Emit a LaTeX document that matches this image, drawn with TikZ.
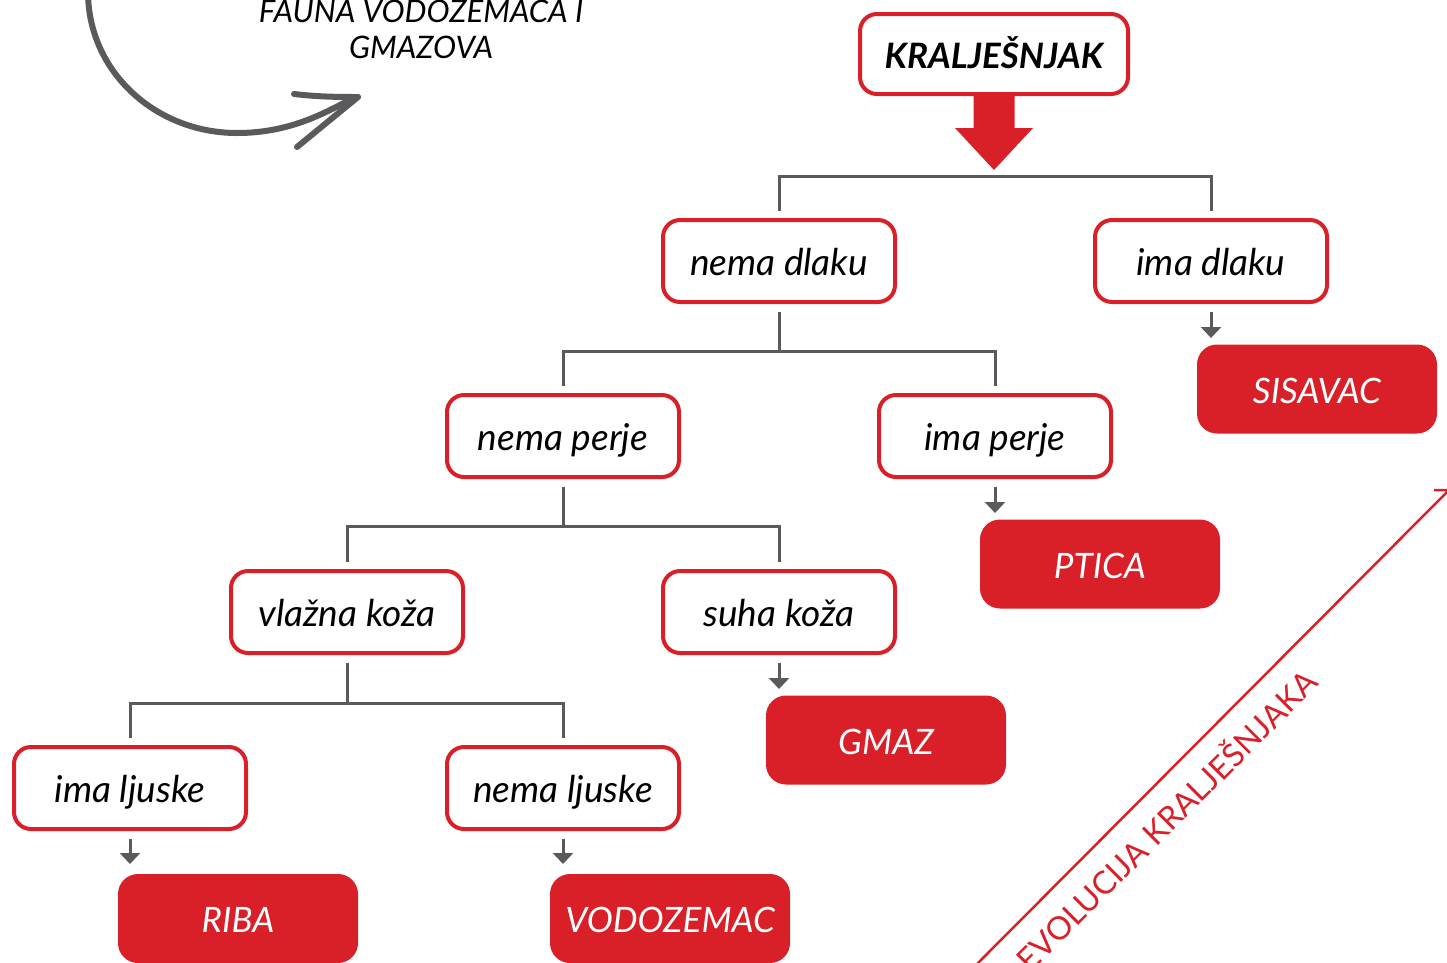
\documentclass[tikz,border=0pt]{standalone}
\usepackage{fontspec}
\setmainfont{Lato}
\usetikzlibrary{arrows.meta}
\definecolor{rd}{HTML}{D92028}
\definecolor{gr}{HTML}{5A5A5C}
\begin{document}
\begin{tikzpicture}[x=1pt,y=-1pt,
  qbox/.style={draw=rd, line width=4pt, fill=white, rounded corners=17pt,
    minimum width=232pt, minimum height=82pt, inner sep=0pt,
    text height=36pt, text depth=8pt,
    font=\fontsize{37}{40}\selectfont\itshape},
  abox/.style={fill=rd, rounded corners=20pt, minimum width=240pt,
    minimum height=89pt, inner sep=0pt, text=white,
    text height=36pt, text depth=8pt,
    font=\fontsize{35}{40}\selectfont\itshape},
  conn/.style={draw=gr, line width=3pt},
  arr/.style={conn, -{Triangle[width=20pt,length=11pt]}},
  note/.style={font=\fontsize{31}{36}\selectfont\itshape, inner sep=0pt, anchor=base}
]
\useasboundingbox (0,0) rectangle (1447,962);

% top-left curved arrow and note
\draw[gr, line width=6pt, line cap=round]
  (88,-8) .. controls (88,71) and (155,133) .. (237,133)
  .. controls (290,133) and (325,113) .. (355,97);
\draw[gr, line width=6pt, line cap=round, line join=round]
  (294,94) .. controls (320,97) and (340,97) .. (358,97) -- (297,147);
\node[note] (fauna1) at (421,22) {FAUNA VODOZEMACA I};
\node[note] (fauna2) at (421,58) {GMAZOVA};

% evolution line
\draw[rd, line width=2.5pt] (977,964) -- (1449,490) -- (1434,490);
\node[text=rd, rotate=45, font=\fontsize{32}{36}\selectfont, inner sep=0pt] (evo) at (1165,819) {EVOLUCIJA KRALJEŠNJAKA};

% nodes
\node[qbox, minimum width=268pt, minimum height=80pt, font=\fontsize{35}{40}\selectfont\bfseries\itshape] (k) at (994,54) {KRALJEŠNJAK};
\node[qbox] (nd) at (779,261) {nema dlaku};
\node[qbox] (id) at (1211,261) {ima dlaku};
\node[qbox] (np) at (563,436) {nema perje};
\node[qbox] (ip) at (995,436) {ima perje};
\node[qbox] (vk) at (347,612) {vlažna koža};
\node[qbox] (sk) at (779,612) {suha koža};
\node[qbox] (il) at (130,788) {ima ljuske};
\node[qbox] (nl) at (563,788) {nema ljuske};

\node[abox] (sis) at (1317,389) {SISAVAC};
\node[abox] (pt) at (1100,564) {PTICA};
\node[abox] (gm) at (886,740) {GMAZ};
\node[abox] (rb) at (238,918.5) {RIBA};
\node[abox] (vz) at (670,918.5) {VODOZEMAC};

% red block arrow below KRALJESNJAK
\fill[rd] (973.5,92) -- (1014.5,92) -- (1014.5,128) -- (1033,128) -- (994,170)
  -- (955,128) -- (973.5,128) -- cycle;

% branch connectors
\coordinate (b1) at (994,176);
\coordinate (b2) at (779,351);
\coordinate (b3) at (563,526);
\coordinate (b4) at (347,703);

\draw[conn] ([yshift=7pt]nd.north) |- (b1) -| ([yshift=7pt]id.north);
\draw[conn] ([yshift=-8pt]nd.south) -- (b2);
\draw[conn] ([yshift=7pt]np.north) |- (b2) -| ([yshift=7pt]ip.north);
\draw[conn] ([yshift=-8pt]np.south) -- (b3);
\draw[conn] ([yshift=7pt]vk.north) |- (b3) -| ([yshift=7pt]sk.north);
\draw[conn] ([yshift=-8pt]vk.south) -- (b4);
\draw[conn] ([yshift=7pt]il.north) |- (b4) -| ([yshift=7pt]nl.north);

% leaf arrows
\draw[arr] ([yshift=-8pt]id.south) -- (id.south |- 0,338);
\draw[arr] ([yshift=-8pt]ip.south) -- (ip.south |- 0,513);
\draw[arr] ([yshift=-8pt]sk.south) -- (sk.south |- 0,689);
\draw[arr] ([yshift=-8pt]il.south) -- (il.south |- 0,864);
\draw[arr] ([yshift=-8pt]nl.south) -- (nl.south |- 0,864);
\end{tikzpicture}
\end{document}
